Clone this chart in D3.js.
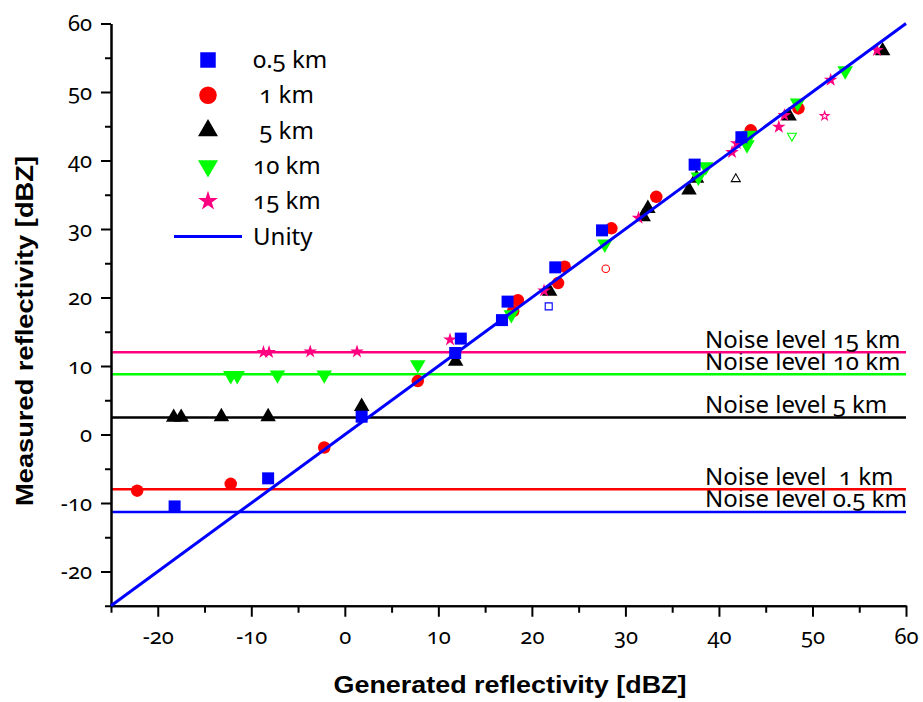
<!DOCTYPE html>
<html>
<head>
<meta charset="utf-8">
<script src="https://cdn.jsdelivr.net/npm/d3@7"></script>
<style>
  html, body { margin: 0; padding: 0; background: #fff; }
  svg { display: block; }
  .num { font-family: "Noto Sans", sans-serif; font-variant-numeric: oldstyle-nums; font-feature-settings: "onum" 1; }
  .title { font-family: "Liberation Sans", Arial, sans-serif; font-weight: bold; }
</style>
</head>
<body>
<svg id="chart" width="923" height="702"></svg>
<script>
// Range series: generated vs. measured reflectivity (dBZ)
const seriesNames = ["0.5 km", " 1 km", " 5 km", "10 km", "15 km"];
const seriesColors = ["#0000ff", "#ff0000", "#000000", "#00ff00", "#ff0080"];

const gen05  = [-18.2, -8.2, 1.8, 11.8, 12.4, 16.8, 17.4, 22.5, 27.5, 37.4, 42.4];
const meas05 = [-10.5, -6.4, 2.6, 11.9, 14.0, 16.7, 19.4, 24.4, 29.8, 39.4, 43.4];

const gen1  = [-22.2, -12.2, -2.2, 7.8, 18.0, 18.5, 22.8, 23.5, 28.5, 33.3, 43.4, 48.5];
const meas1 = [-8.2, -7.2, -1.9, 7.8, 18.0, 19.6, 22.1, 24.5, 30.1, 34.7, 44.4, 47.6];

const gen5  = [-18.3, -17.5, -13.2, -8.2, 1.8, 11.85, 21.9, 31.9, 32.4, 36.8, 37.6, 47.5, 57.5];
const meas5 = [2.5, 2.5, 2.6, 2.6, 4.1, 10.7, 20.9, 31.8, 33.0, 35.7, 37.4, 46.5, 56.0];

const gen10  = [-12.2, -11.5, -7.2, -2.2, 7.8, 17.8, 27.8, 37.8, 38.6, 43.0, 43.3, 48.4, 53.5];
const meas10 = [8.6, 8.6, 8.7, 8.7, 10.2, 17.5, 27.8, 37.6, 39.1, 42.3, 43.7, 48.4, 53.1];

const gen15  = [-8.7, -8.1, -3.7, 1.3, 11.25, 21.3, 31.4, 41.4, 41.9, 46.4, 47.0, 51.95, 56.9];
const meas15 = [12.0, 12.0, 12.1, 12.1, 13.85, 21.0, 31.6, 41.2, 42.5, 44.9, 46.6, 51.75, 56.1];

// One open (outlier) marker per range, same order as seriesNames
const outlierGen  = [21.8, 27.9, 41.8, 47.8, 51.3];
const outlierMeas = [18.7, 24.2, 37.3, 43.6, 46.5];

// Noise floors per range
const noiseLevels = [-11.3, -8.0, 2.5, 8.8, 12.0];
const noiseLabels = ["Noise level 0.5 km", "Noise level  1 km", "Noise level 5 km", "Noise level 10 km", "Noise level 15 km"];

// Axis ticks
const majorTicks = [-20, -10, 0, 10, 20, 30, 40, 50, 60];
const minorTicks = [-25, -15, -5, 5, 15, 25, 35, 45, 55];
const axisDomain = [-25, 60];

const svg = d3.select("#chart");
const x = d3.scaleLinear().domain(axisDomain).range([111, 906]);
const y = d3.scaleLinear().domain(axisDomain).range([605.75, 23.5]);

const symbolTypes = [d3.symbolSquare, d3.symbolCircle, d3.symbolTriangle, d3.symbolTriangle, d3.symbolStar];
const flipped = [false, false, false, true, false];
const plotSizes = [144, 123, 104, 104, 58];
const legendSizes = [240, 240, 173, 173, 121];
const openSizes = [49, 44, 35, 35, 23];

const seriesX = [gen05, gen1, gen5, gen10, gen15];
const seriesY = [meas05, meas1, meas5, meas10, meas15];

// Noise-level lines with their captions
const noise = svg.append("g");
noiseLevels.forEach((lv, i) => {
  noise.append("line")
    .attr("x1", x(axisDomain[0])).attr("x2", x(axisDomain[1]))
    .attr("y1", y(lv)).attr("y2", y(lv))
    .attr("stroke", seriesColors[i]).attr("stroke-width", 2.5);
  noise.append("text")
    .attr("class", "num")
    .attr("x", 705).attr("y", y(lv) - 4.5)
    .attr("font-size", 24)
    .style("white-space", "pre")
    .text(noiseLabels[i]);
});

// Axes
function styleAxis(g) {
  g.selectAll("path.domain").attr("stroke", "#000").attr("stroke-width", 2);
  g.selectAll(".tick line").attr("stroke", "#000").attr("stroke-width", 2);
}
const fmt = d => String(d);

const xMajor = svg.append("g").attr("transform", `translate(0,${y(axisDomain[0])})`)
  .call(d3.axisBottom(x).tickValues(majorTicks).tickSize(11).tickPadding(12).tickFormat(fmt).tickSizeOuter(0));
const xMinor = svg.append("g").attr("transform", `translate(0,${y(axisDomain[0])})`)
  .call(d3.axisBottom(x).tickValues(minorTicks).tickSize(7).tickFormat("").tickSizeOuter(0));
const yMajor = svg.append("g").attr("transform", `translate(${x(axisDomain[0])},0)`)
  .call(d3.axisLeft(y).tickValues(majorTicks).tickSize(10).tickPadding(9).tickFormat(fmt).tickSizeOuter(0));
const yMinor = svg.append("g").attr("transform", `translate(${x(axisDomain[0])},0)`)
  .call(d3.axisLeft(y).tickValues(minorTicks).tickSize(6).tickFormat("").tickSizeOuter(0));
[xMajor, xMinor, yMajor, yMinor].forEach(styleAxis);
[xMajor, yMajor].forEach(g => g.selectAll("text")
  .attr("class", "num").attr("font-size", 22).attr("fill", "#000")
  .attr("font-family", null));

// Axis titles
svg.append("text").attr("class", "title")
  .attr("x", 510).attr("y", 693)
  .attr("text-anchor", "middle").attr("font-size", 23)
  .attr("textLength", 353).attr("lengthAdjust", "spacingAndGlyphs")
  .text("Generated reflectivity [dBZ]");
svg.append("text").attr("class", "title")
  .attr("transform", "translate(33,331) rotate(-90)")
  .attr("text-anchor", "middle").attr("font-size", 23)
  .attr("textLength", 350).attr("lengthAdjust", "spacingAndGlyphs")
  .text("Measured reflectivity [dBZ]");

function symbolPath(i, size) {
  return d3.symbol().type(symbolTypes[i]).size(size)();
}

// Filled markers: red, black, green, pink, then blue on top
const drawOrder = [1, 2, 3, 4, 0];
const marks = svg.append("g");
drawOrder.forEach(i => {
  marks.append("g").selectAll("path")
    .data(d3.zip(seriesX[i], seriesY[i]))
    .join("path")
    .attr("d", symbolPath(i, plotSizes[i]))
    .attr("transform", d => `translate(${x(d[0])},${y(d[1])})${flipped[i] ? " rotate(180)" : ""}`)
    .attr("fill", seriesColors[i]);
});

// Open markers
marks.append("g").selectAll("path")
  .data(d3.range(outlierGen.length))
  .join("path")
  .attr("d", i => symbolPath(i, openSizes[i]))
  .attr("transform", i => `translate(${x(outlierGen[i])},${y(outlierMeas[i])})${flipped[i] ? " rotate(180)" : ""}`)
  .attr("fill", "none")
  .attr("stroke", i => seriesColors[i])
  .attr("stroke-width", 1.1);

// Unity (1:1) line
svg.append("line")
  .attr("x1", x(axisDomain[0])).attr("y1", y(axisDomain[0]))
  .attr("x2", x(axisDomain[1])).attr("y2", y(axisDomain[1]))
  .attr("stroke", "#0000ff").attr("stroke-width", 3);

// Legend
const legend = svg.append("g");
const rowY = d3.scaleLinear().domain([0, 5]).range([60, 236.5]);
seriesNames.forEach((name, i) => {
  legend.append("path")
    .attr("d", symbolPath(i, legendSizes[i]))
    .attr("transform", `translate(208,${rowY(i)})${flipped[i] ? " rotate(180)" : ""}`)
    .attr("fill", seriesColors[i]);
  legend.append("text").attr("class", "num")
    .attr("x", 253).attr("y", rowY(i) + 8)
    .attr("font-size", 24).style("white-space", "pre")
    .text(name);
});
legend.append("line")
  .attr("x1", 174).attr("x2", 242)
  .attr("y1", rowY(5)).attr("y2", rowY(5))
  .attr("stroke", "#0000ff").attr("stroke-width", 3);
legend.append("text").attr("class", "num")
  .attr("x", 253).attr("y", rowY(5) + 8)
  .attr("font-size", 24)
  .text("Unity");
</script>
</body>
</html>
